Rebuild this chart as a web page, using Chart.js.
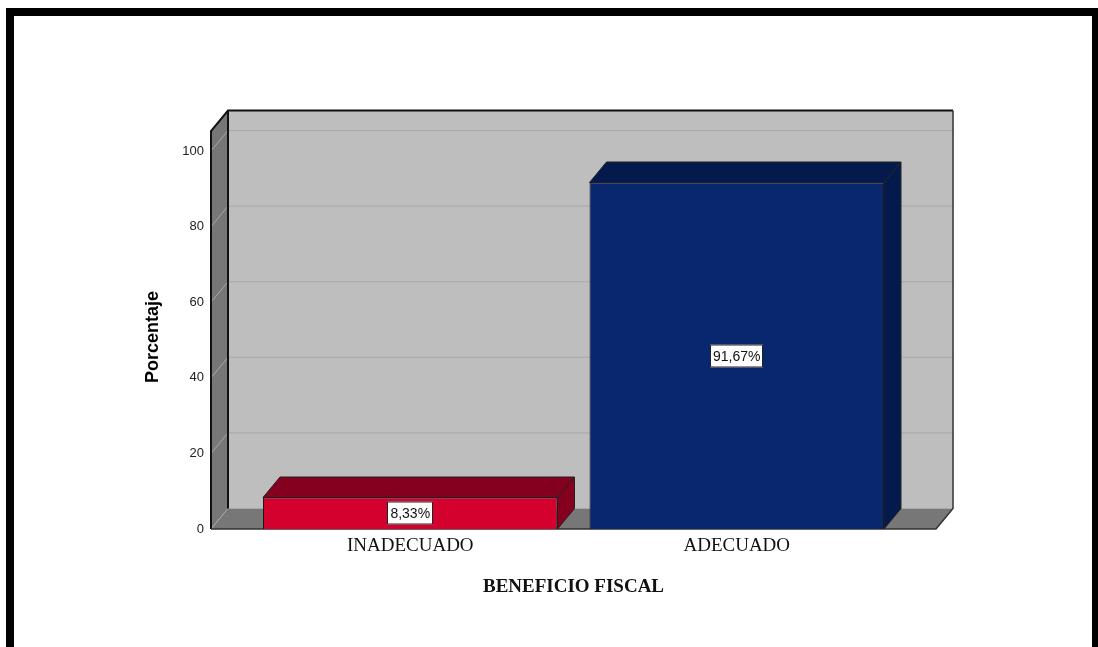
<!DOCTYPE html>
<html lang="es">
<head>
<meta charset="utf-8">
<title>Beneficio fiscal</title>
<script src="https://cdn.jsdelivr.net/npm/chart.js@4"></script>
<style>
  html, body { margin: 0; padding: 0; background: #fff; overflow: hidden; }
  canvas { display: block; }
</style>
</head>
<body>
<canvas id="chart" width="1098" height="647"></canvas>
<script>
const categories = ['INADECUADO', 'ADECUADO'];
const percentages = [8.33, 91.67];
const yTickValues = [0, 20, 40, 60, 80, 100];
const yAxisMax = 105.3;
const yAxisTitle = 'Porcentaje';

const frontColors = ['#d4002e', '#08276f'];
const topColors = ['#85001f', '#041a4c'];
const sideColors = ['#85001f', '#041a4c'];

// box depth of the 3D plot, in pixels
const depthX = 17;
const depthY = 20.5;
// the walls reach past the category band on both sides
const wallLeft = 211;
const wallRight = 936;

function fillFace(ctx, points, fill, stroke) {
  ctx.beginPath();
  points.forEach(([x, y], i) => (i ? ctx.lineTo(x, y) : ctx.moveTo(x, y)));
  ctx.closePath();
  ctx.fillStyle = fill;
  ctx.fill();
  if (stroke) {
    ctx.strokeStyle = stroke;
    ctx.lineWidth = 1;
    ctx.stroke();
  }
}

function percentLabel(value) {
  return value.toFixed(2).replace('.', ',') + '%';
}

// walls, floor and grid lines behind the bars
const boxPlugin = {
  id: 'box3d',
  beforeDatasetsDraw(chart) {
    const { ctx, chartArea, scales } = chart;
    const top = chartArea.top;
    const bottom = chartArea.bottom;
    ctx.save();
    fillFace(ctx, [[wallLeft + depthX, top - depthY], [wallRight + depthX, top - depthY],
      [wallRight + depthX, bottom - depthY], [wallLeft + depthX, bottom - depthY]], '#bebebe');
    fillFace(ctx, [[wallLeft, top], [wallLeft + depthX, top - depthY],
      [wallLeft + depthX, bottom - depthY], [wallLeft, bottom]], '#777777');
    fillFace(ctx, [[wallLeft, bottom], [wallLeft + depthX, bottom - depthY],
      [wallRight + depthX, bottom - depthY], [wallRight, bottom]], '#777777');

    ctx.strokeStyle = '#a8a8a8';
    ctx.lineWidth = 1;
    yTickValues.forEach(value => {
      const y = scales.y.getPixelForValue(value);
      ctx.beginPath();
      ctx.moveTo(wallLeft, y);
      ctx.lineTo(wallLeft + depthX, y - depthY);
      if (value > 0) ctx.lineTo(wallRight + depthX, y - depthY);
      ctx.stroke();
    });

    // box outline: dark on the left and top, softer on the right and floor
    ctx.strokeStyle = '#111';
    ctx.lineWidth = 2;
    ctx.beginPath();
    ctx.moveTo(wallLeft, bottom);
    ctx.lineTo(wallLeft, top);
    ctx.lineTo(wallLeft + depthX, top - depthY);
    ctx.lineTo(wallRight + depthX, top - depthY);
    ctx.moveTo(wallLeft + depthX, top - depthY);
    ctx.lineTo(wallLeft + depthX, bottom - depthY);
    ctx.stroke();
    ctx.strokeStyle = '#333';
    ctx.lineWidth = 1.5;
    ctx.beginPath();
    ctx.moveTo(wallRight + depthX, top - depthY);
    ctx.lineTo(wallRight + depthX, bottom - depthY);
    ctx.lineTo(wallRight, bottom);
    ctx.lineTo(wallLeft, bottom);
    ctx.stroke();

    // top and side faces of each bar
    chart.getDatasetMeta(0).data.forEach((bar, i) => {
      const { x, y, base, width } = bar.getProps(['x', 'y', 'base', 'width'], true);
      const l = x - width / 2;
      const r = x + width / 2;
      fillFace(ctx, [[l, y], [l + depthX, y - depthY], [r + depthX, y - depthY], [r, y]], topColors[i], '#222');
      fillFace(ctx, [[r, y], [r + depthX, y - depthY], [r + depthX, base - depthY], [r, base]], sideColors[i], '#222');
    });
    ctx.restore();
  },
  afterDatasetsDraw(chart) {
    const { ctx } = chart;
    ctx.save();
    ctx.font = '14px "Liberation Sans"';
    ctx.textAlign = 'center';
    ctx.textBaseline = 'middle';
    chart.getDatasetMeta(0).data.forEach((bar, i) => {
      const { x, y, base } = bar.getProps(['x', 'y', 'base'], true);
      const midY = Math.round((y + base) / 2);
      const text = percentLabel(percentages[i]);
      const boxW = Math.round(ctx.measureText(text).width) + 6;
      const boxH = 23;
      const boxX = Math.round(x - boxW / 2);
      ctx.fillStyle = '#fff';
      ctx.fillRect(boxX, midY - boxH / 2, boxW, boxH);
      ctx.strokeStyle = '#222';
      ctx.lineWidth = 1;
      ctx.strokeRect(boxX + 0.5, midY - boxH / 2 + 0.5, boxW - 1, boxH - 1);
      ctx.fillStyle = '#111';
      ctx.fillText(text, x, midY + 1);
    });
    ctx.restore();
  }
};

// black page frame, open along the bottom, and the rotated y axis title
const framePlugin = {
  id: 'pageFrame',
  afterDraw(chart) {
    const { ctx, width, height } = chart;
    ctx.save();
    ctx.fillStyle = '#000';
    ctx.fillRect(6, 8, width - 6, 8);
    ctx.fillRect(6, 8, 8, height - 8);
    ctx.fillRect(1092, 8, 6, height - 8);
    ctx.translate(153, 337);
    ctx.rotate(-Math.PI / 2);
    ctx.font = 'bold 18px "Liberation Sans"';
    ctx.textAlign = 'center';
    ctx.textBaseline = 'middle';
    ctx.fillText(yAxisTitle, 0, 0);
    ctx.restore();
  }
};

new Chart(document.getElementById('chart').getContext('2d'), {
  type: 'bar',
  data: {
    labels: categories,
    datasets: [{
      data: percentages,
      backgroundColor: frontColors,
      borderColor: '#1a1a1a',
      borderWidth: 1,
      categoryPercentage: 1,
      barPercentage: 0.902
    }]
  },
  options: {
    responsive: false,
    animation: false,
    layout: { padding: { left: 140, right: 198, top: 131, bottom: 49 } },
    plugins: { legend: { display: false }, tooltip: { enabled: false } },
    scales: {
      x: {
        grid: { display: false },
        border: { display: false },
        ticks: {
          color: '#111',
          font: { family: 'Liberation Serif', size: 19 },
          padding: -2,
          maxRotation: 0
        },
        title: {
          display: true,
          text: 'BENEFICIO FISCAL',
          color: '#111',
          font: { family: 'Liberation Serif', size: 19, weight: 'bold' },
          padding: { top: 0, bottom: 0 }
        },
        afterFit(scale) { scale.height = 69; }
      },
      y: {
        min: 0,
        max: yAxisMax,
        grid: { display: false },
        border: { display: false },
        afterBuildTicks(scale) { scale.ticks = yTickValues.map(value => ({ value })); },
        ticks: {
          color: '#222',
          font: { family: 'Liberation Sans', size: 13 },
          padding: 35
        },
        afterFit(scale) { scale.width = 107; }
      }
    }
  },
  plugins: [boxPlugin, framePlugin]
});
</script>
</body>
</html>
